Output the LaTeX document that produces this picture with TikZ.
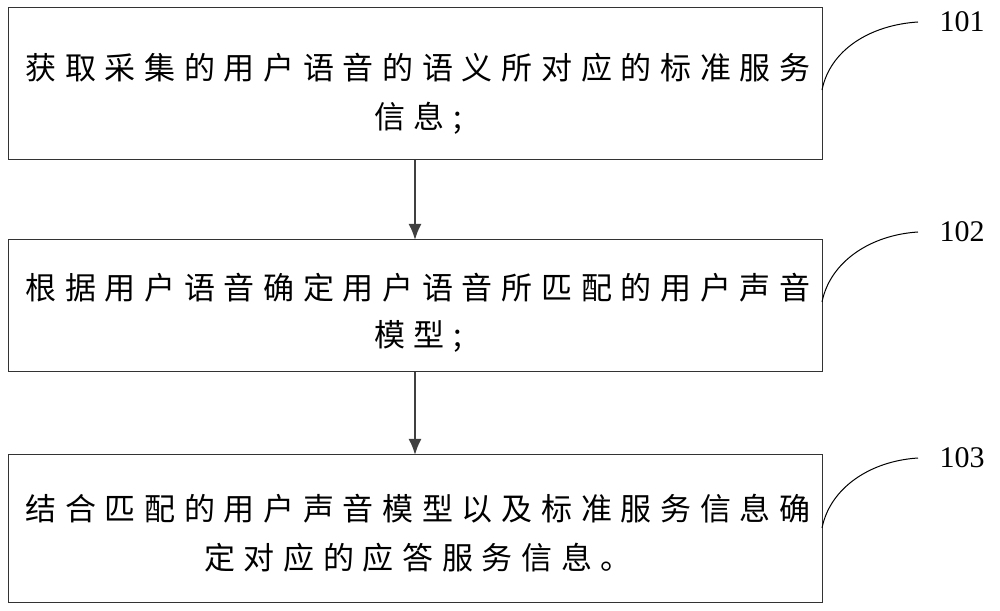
\documentclass[tikz,border=0pt]{standalone}
\usepackage{fontspec}
\usetikzlibrary{arrows.meta}
\newfontfamily\cjk[LetterSpace=28]{Noto Sans CJK SC}
\setmainfont{Liberation Serif}
\begin{document}
\begin{tikzpicture}[x=1pt,y=1pt,
  box/.style={draw=black!80,line width=1pt},
  txt/.style={font=\cjk\fontsize{31}{33}\selectfont,inner sep=0pt},
  lab/.style={font=\fontsize{30}{32}\selectfont,inner sep=0pt},
  arr/.style={-{Latex[length=16pt,width=13pt]},line width=2pt,draw=black!75},
  curve/.style={line width=1pt}]
\useasboundingbox (0,0) rectangle (1000,610);
\draw[box] (8,450) rectangle (822,602);
\draw[box] (8,238) rectangle (822,370);
\draw[box] (8,8) rectangle (822,155);
\node[txt] (t11) at (418,542) {获取采集的用户语音的语义所对应的标准服务};
\node[txt] (t12) at (418,492) {信息;};
\node[txt] (t21) at (418,322) {根据用户语音确定用户语音所匹配的用户声音};
\node[txt] (t22) at (418,274) {模型;};
\node[txt] (t31) at (418,101) {结合匹配的用户声音模型以及标准服务信息确};
\node[txt] (t32) at (418,52) {定对应的应答服务信息。};
\coordinate (a1s) at (415,450);
\coordinate (a1e) at (415,370);
\coordinate (a2s) at (415,238);
\coordinate (a2e) at (415,155);
\draw[arr] (a1s) -- (a1e);
\draw[arr] (a2s) -- (a2e);
\node[lab] (l1) at (962,588) {101};
\node[lab] (l2) at (962,378) {102};
\node[lab] (l3) at (962,152) {103};
\coordinate (c1) at (822,520);
\coordinate (c2) at (822,308);
\coordinate (c3) at (822,82);
\draw[curve] (c1) .. controls (830,560) and (870,585) .. (918,588);
\draw[curve] (c2) .. controls (830,348) and (870,375) .. (918,378);
\draw[curve] (c3) .. controls (830,122) and (870,149) .. (918,152);
\end{tikzpicture}
\end{document}
